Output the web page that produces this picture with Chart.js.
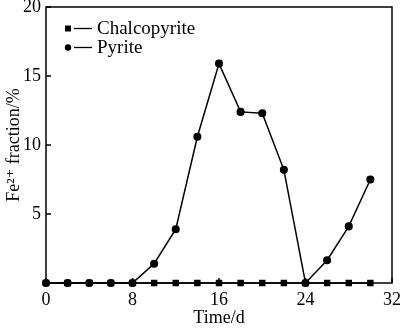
<!DOCTYPE html>
<html>
<head>
<meta charset="utf-8">
<script src="https://cdn.jsdelivr.net/npm/chart.js@4/dist/chart.umd.min.js"></script>
<style>
  body { margin: 0; background: #fff; }
  #wrap { width: 400px; height: 328px; }
</style>
</head>
<body>
<div id="wrap"><canvas id="canvas"></canvas></div>
<script>
const days = [0, 2, 4, 6, 8, 10, 12, 14, 16, 18, 20, 22, 24, 26, 28, 30];
const chalcopyrite = [0, 0, 0, 0, 0, 0, 0, 0, 0, 0, 0, 0, 0, 0, 0, 0];
const pyrite = [0, 0, 0, 0, 0, 1.4, 3.9, 10.6, 15.9, 12.4, 12.3, 8.2, 0, 1.65, 4.1, 7.5];
const xTicks = [0, 8, 16, 24, 32];
const yTicks = [0, 5, 10, 15, 20];

const serif = "'Liberation Serif', 'DejaVu Serif', serif";

// frame + inward tick marks
const framePlugin = {
    id: 'frame',
    afterDatasetsDraw(chart){
        const ctx = chart.ctx;
        const a = chart.chartArea;
        const xs = chart.scales.x, ys = chart.scales.y;
        ctx.save();
        ctx.strokeStyle = '#000';
        ctx.lineWidth = 1.5;
        ctx.strokeRect(a.left, a.top, a.right - a.left, a.bottom - a.top);
        ctx.beginPath();
        xTicks.forEach(t => {
            const px = xs.getPixelForValue(t);
            ctx.moveTo(px, a.bottom);
            ctx.lineTo(px, a.bottom - 5);
        });
        yTicks.forEach(t => {
            const py = ys.getPixelForValue(t);
            ctx.moveTo(a.left, py);
            ctx.lineTo(a.left + 5, py);
        });
        ctx.stroke();
        ctx.restore();
    }
};

// legend: marker, short line, label
const legendPlugin = {
    id: 'lineLegend',
    afterDraw(chart){
        const ctx = chart.ctx;
        ctx.save();
        ctx.fillStyle = '#000';
        ctx.strokeStyle = '#000';
        ctx.lineWidth = 1.3;
        ctx.font = '19px ' + serif;
        ctx.textBaseline = 'middle';
        chart.data.datasets.forEach((ds, i) => {
            const y = 28.5 + i * 19;
            if (ds.pointStyle === 'rect') {
                ctx.fillRect(65, y - 3, 6, 6);
            } else {
                ctx.beginPath();
                ctx.arc(68, y, 3.2, 0, Math.PI * 2);
                ctx.fill();
            }
            ctx.beginPath();
            ctx.moveTo(74, y);
            ctx.lineTo(92, y);
            ctx.stroke();
            ctx.fillText(ds.label, 97, y + 1);
        });
        ctx.restore();
    }
};

const ctx = document.getElementById('canvas').getContext('2d');

const myChart = new Chart(ctx, {
    type: 'line',
    data: {
        datasets: [{
            label: 'Chalcopyrite',
            data: days.map((d, i) => ({x: d, y: chalcopyrite[i]})),
            borderColor: '#000',
            backgroundColor: '#000',
            borderWidth: 1.5,
            pointStyle: 'rect',
            pointRadius: 3.5,
            clip: false
        },
        {
            label: 'Pyrite',
            data: days.map((d, i) => ({x: d, y: pyrite[i]})),
            borderColor: '#000',
            backgroundColor: '#000',
            borderWidth: 1.5,
            pointStyle: 'circle',
            pointRadius: 3.3,
            clip: false
        }]
    },
    options: {
        responsive: true,
        maintainAspectRatio: false,
        animation: false,
        layout: { padding: { top: 7, right: 8, left: 0, bottom: 0 } },
        plugins: {
            legend: { display: false },
            tooltip: { enabled: false }
        },
        scales: {
            x: {
                type: 'linear',
                min: 0,
                max: 32,
                afterBuildTicks(s){ s.ticks = xTicks.map(v => ({value: v})); },
                afterFit(s){
                    s.height = 45;
                    s.paddingLeft = 0;
                    s.paddingRight = 0;
                },
                grid: { display: false, drawTicks: false },
                border: { display: false },
                ticks: {
                    color: '#000',
                    padding: 6,
                    maxRotation: 0,
                    font: { family: serif, size: 18 }
                },
                title: {
                    display: true,
                    text: 'Time/d',
                    color: '#000',
                    font: { family: serif, size: 18 },
                    padding: { top: 0, bottom: -1 }
                }
            },
            y: {
                min: 0,
                max: 20,
                afterBuildTicks(s){ s.ticks = yTicks.map(v => ({value: v})); },
                afterFit(s){
                    s.width = 46;
                    s.paddingTop = 0;
                    s.paddingBottom = 0;
                },
                grid: { display: false, drawTicks: false },
                border: { display: false },
                ticks: {
                    color: '#000',
                    padding: 5,
                    font: { family: serif, size: 18 },
                    callback: v => v === 0 ? '' : v
                },
                title: {
                    display: true,
                    text: 'Fe²⁺ fraction/%',
                    color: '#000',
                    font: { family: serif, size: 18 },
                    padding: { top: 3, bottom: 0 }
                }
            }
        }
    },
    plugins: [framePlugin, legendPlugin]
});
</script>
</body>
</html>
